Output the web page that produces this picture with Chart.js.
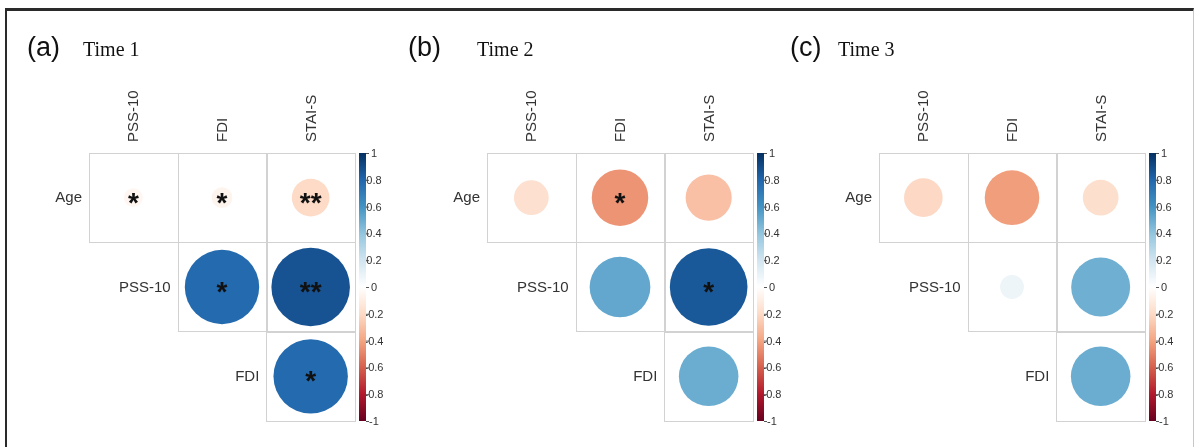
<!DOCTYPE html>
<html>
<head>
<meta charset="utf-8">
<script src="https://cdn.jsdelivr.net/npm/chart.js@4.4.1/dist/chart.umd.min.js"></script>
<style>
  html, body { margin: 0; padding: 0; background: #fff; }
  body { width: 1198px; height: 447px; position: relative; overflow: hidden; }
  .frame { position: absolute; left: 5px; top: 8px; width: 1189px; height: 460px;
    border-top: 3px solid #2a2a2a; border-left: 2px solid #2a2a2a; border-right: 1px solid #c8c8c8; box-sizing: border-box; }
  .panel { position: absolute; top: 0; height: 447px; }
</style>
</head>
<body>
<div class="frame"></div>
<div class="panel" style="left:0;width:400px"><canvas id="chart-t1"></canvas></div>
<div class="panel" style="left:398px;width:400px"><canvas id="chart-t2"></canvas></div>
<div class="panel" style="left:790px;width:408px"><canvas id="chart-t3"></canvas></div>
<script>
// correlation matrices (upper triangle), one value per variable pair
const colLabels = ['PSS-10', 'FDI', 'STAI-S'];
const rowLabels = ['Age', 'PSS-10', 'FDI'];
const pairRow = ['Age', 'Age', 'Age', 'PSS-10', 'PSS-10', 'FDI'];
const pairCol = ['PSS-10', 'FDI', 'STAI-S', 'FDI', 'STAI-S', 'STAI-S'];

const time1R = [-0.05, -0.06, -0.2, 0.78, 0.87, 0.78];
const time1Stars = ['*', '*', '**', '*', '**', '*'];
const time2R = [-0.17, -0.45, -0.3, 0.52, 0.85, 0.5];
const time2Stars = ['', '*', '', '', '*', ''];
const time3R = [-0.21, -0.42, -0.18, 0.08, 0.49, 0.5];
const time3Stars = ['', '', '', '', '', ''];

const legendTicks = [1, 0.8, 0.6, 0.4, 0.2, 0, -0.2, -0.4, -0.6, -0.8, -1];

// RdBu ramp, -1 .. 1
const PALETTE = ['#67001F', '#B2182B', '#D6604D', '#F4A582', '#FDDBC7', '#FFFFFF',
                 '#D1E5F0', '#92C5DE', '#4393C3', '#2166AC', '#053061'];

function hexToRgb(h) {
  return [parseInt(h.slice(1, 3), 16), parseInt(h.slice(3, 5), 16), parseInt(h.slice(5, 7), 16)];
}

function corrColor(v) {
  const t = Math.min(Math.max((v + 1) / 2, 0), 1) * (PALETTE.length - 1);
  const i = Math.min(Math.floor(t), PALETTE.length - 2);
  const f = t - i;
  const a = hexToRgb(PALETTE[i]), b = hexToRgb(PALETTE[i + 1]);
  const c = a.map((x, k) => Math.round(x + (b[k] - x) * f));
  return `rgb(${c[0]},${c[1]},${c[2]})`;
}

const TEXT = '#333';
const PAD = { left: 89, top: 153, bottom: 26 };

const corrDecor = {
  id: 'corrDecor',
  beforeDatasetsDraw(chart) {
    const { ctx } = chart;
    const xs = chart.scales.x, ys = chart.scales.y;
    const w = (xs.right - xs.left) / colLabels.length;
    const h = (ys.bottom - ys.top) / rowLabels.length;
    ctx.save();
    ctx.strokeStyle = '#d2d2d2';
    ctx.lineWidth = 1;
    rowLabels.forEach((r, ri) => {
      colLabels.forEach((c, ci) => {
        if (ci < ri) return;
        const cx = xs.getPixelForValue(ci), cy = ys.getPixelForValue(ri);
        ctx.strokeRect(Math.round(cx - w / 2) + 0.5, Math.round(cy - h / 2) + 0.5, Math.round(w), Math.round(h));
      });
    });
    ctx.restore();
  },
  afterDatasetsDraw(chart, args, opts) {
    const { ctx, chartArea } = chart;
    const xs = chart.scales.x, ys = chart.scales.y, cb = chart.scales.cb;
    const w = (xs.right - xs.left) / colLabels.length;
    ctx.save();

    // significance stars
    const meta = chart.getDatasetMeta(0);
    ctx.fillStyle = '#111';
    ctx.font = 'bold 28px "Liberation Sans", Arial, sans-serif';
    ctx.textAlign = 'center';
    ctx.textBaseline = 'alphabetic';
    meta.data.forEach((el, i) => {
      const s = opts.stars[i];
      if (s) ctx.fillText(s, el.x, el.y + 14);
    });

    // row labels
    ctx.fillStyle = TEXT;
    ctx.font = '15px "Liberation Sans", Arial, sans-serif';
    ctx.textAlign = 'right';
    rowLabels.forEach((r, ri) => {
      const left = xs.getPixelForValue(ri) - w / 2;
      ctx.fillText(r, left - 7, ys.getPixelForValue(ri) + 4.5);
    });

    // column labels, rotated
    colLabels.forEach((c, ci) => {
      ctx.save();
      ctx.translate(xs.getPixelForValue(ci), chartArea.top - 11);
      ctx.rotate(-Math.PI / 2);
      ctx.textAlign = 'left';
      ctx.fillText(c, 0, 5);
      ctx.restore();
    });

    // colour legend
    const barL = chartArea.right + 4, barW = 7;
    ctx.font = '11px "Liberation Sans", Arial, sans-serif';
    ctx.textAlign = 'center';
    ctx.fillStyle = TEXT;
    ctx.strokeStyle = '#555';
    legendTicks.forEach(t => {
      const y = cb.getPixelForValue(t);
      ctx.beginPath();
      ctx.moveTo(barL + barW, y + 0.5);
      ctx.lineTo(barL + barW + 3, y + 0.5);
      ctx.stroke();
      ctx.fillText(String(t), barL + barW + 8, y + 4);
    });
    const g = ctx.createLinearGradient(0, cb.bottom, 0, cb.top);
    PALETTE.forEach((c, i) => g.addColorStop(i / (PALETTE.length - 1), c));
    ctx.fillStyle = g;
    ctx.fillRect(barL, cb.top, barW, cb.bottom - cb.top);

    // panel title
    ctx.fillStyle = '#111';
    ctx.textAlign = 'left';
    ctx.font = '27px "Liberation Sans", Arial, sans-serif';
    ctx.fillText(opts.tag, chartArea.left + opts.tagDx, 56);
    ctx.font = '20px "Liberation Serif", "Times New Roman", serif';
    ctx.fillText(opts.title, chartArea.left + opts.titleDx, 56);
    ctx.restore();
  }
};

function renderPanel(id, values, stars, tag, title, tagDx, titleDx, padRight) {
  const el = document.getElementById(id);
  const boxW = el.parentElement.clientWidth;
  const cell = (boxW - PAD.left - padRight) / colLabels.length;
  return new Chart(el, {
    type: 'bubble',
    data: {
      datasets: [{
        data: values.map((v, i) => ({ x: pairCol[i], y: pairRow[i], v })),
        backgroundColor: c => corrColor(c.raw ? c.raw.v : 0),
        borderWidth: 0,
        // circle area follows |r|
        radius: c => c.raw ? Math.sqrt(Math.abs(c.raw.v)) * 0.475 * cell : 0
      }]
    },
    options: {
      responsive: true, maintainAspectRatio: false, animation: false,
      devicePixelRatio: 1, events: [],
      layout: { autoPadding: false, padding: { left: PAD.left, top: PAD.top, right: padRight, bottom: PAD.bottom } },
      plugins: {
        legend: { display: false }, tooltip: { enabled: false },
        corrDecor: { stars, tag, title, tagDx, titleDx }
      },
      scales: {
        x: { type: 'category', labels: colLabels, offset: true, display: false },
        y: { type: 'category', labels: rowLabels, offset: true, display: false },
        cb: { type: 'linear', min: -1, max: 1, position: 'right', display: false }
      }
    },
    plugins: [corrDecor]
  });
}

renderPanel('chart-t1', time1R, time1Stars, '(a)', 'Time 1', -62, -6, 45);
renderPanel('chart-t2', time2R, time2Stars, '(b)', 'Time 2', -79, -10, 45);
renderPanel('chart-t3', time3R, time3Stars, '(c)', 'Time 3', -89, -41, 53);
</script>
</body>
</html>
